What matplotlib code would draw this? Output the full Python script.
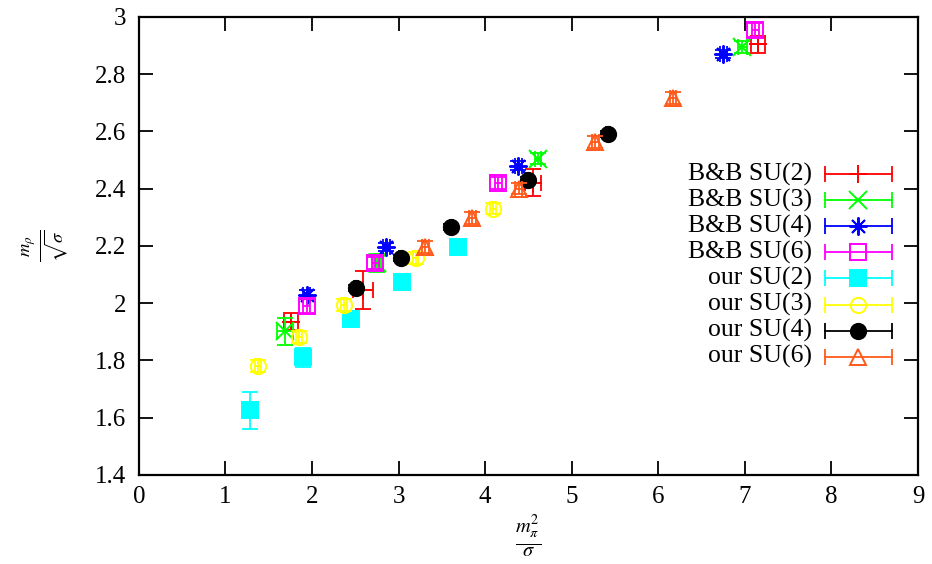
import numpy as np
import matplotlib
matplotlib.use("Agg")
import matplotlib.pyplot as plt

plt.rcParams['font.family'] = ['Liberation Serif', 'DejaVu Serif']
plt.rcParams['mathtext.fontset'] = 'stix'

# B&B data
bb2_x = [1.76, 2.59, 4.55, 7.15]
bb2_y = [1.935, 2.045, 2.42, 2.905]
bb2_xe = [0.08, 0.115, 0.09, 0.08]
bb2_ye = [0.03, 0.066, 0.047, 0.03]

bb3_x = [1.69, 2.75, 4.61, 6.97]
bb3_y = [1.902, 2.14, 2.505, 2.895]
bb3_xe = [0.09, 0.05, 0.04, 0.05]
bb3_ye = [0.047, 0.03, 0.02, 0.02]

bb4_x = [1.94, 2.86, 4.38, 6.75]
bb4_y = [2.03, 2.196, 2.48, 2.87]
bb4_xe = [0.04, 0.04, 0.04, 0.04]
bb4_ye = [0.015, 0.015, 0.015, 0.015]

bb6_x = [1.94, 2.73, 4.15, 7.12]
bb6_y = [1.99, 2.14, 2.42, 2.955]
bb6_xe = [0.04, 0.04, 0.04, 0.04]
bb6_ye = [0.025, 0.02, 0.02, 0.025]

# our data
our2_x = [1.28, 1.90, 2.45, 3.04, 3.69]
our2_y = [1.625, 1.811, 1.944, 2.073, 2.196]
our2_xe = [0.02, 0.02, 0.02, 0.02, 0.02]
our2_ye = [0.065, 0.033, 0.01, 0.01, 0.01]

our3_x = [1.376, 1.85, 2.37, 3.20, 4.09]
our3_y = [1.78, 1.881, 1.993, 2.157, 2.33]
our3_xe = [0.03, 0.03, 0.03, 0.03, 0.03]
our3_ye = [0.02, 0.02, 0.02, 0.02, 0.02]

our4_x = [2.51, 3.03, 3.61, 4.49, 5.42]
our4_y = [2.052, 2.157, 2.266, 2.43, 2.591]
our4_xe = [0.02, 0.02, 0.02, 0.02, 0.02]
our4_ye = [0.01, 0.01, 0.01, 0.01, 0.01]

our6_x = [3.31, 3.85, 4.39, 5.27, 6.17]
our6_y = [2.196, 2.297, 2.40, 2.563, 2.717]
our6_xe = [0.04, 0.04, 0.04, 0.04, 0.04]
our6_ye = [0.02, 0.02, 0.02, 0.02, 0.02]

series = [
    ("B&B SU(2)", bb2_x, bb2_y, bb2_xe, bb2_ye, '#ff0000', '+', True),
    ("B&B SU(3)", bb3_x, bb3_y, bb3_xe, bb3_ye, '#00ff00', 'x', True),
    ("B&B SU(4)", bb4_x, bb4_y, bb4_xe, bb4_ye, '#0000ff', (8, 2, 0), True),
    ("B&B SU(6)", bb6_x, bb6_y, bb6_xe, bb6_ye, '#ff00ff', 's', False),
    ("our SU(2)", our2_x, our2_y, our2_xe, our2_ye, '#00ffff', 's', True),
    ("our SU(3)", our3_x, our3_y, our3_xe, our3_ye, '#ffff00', 'o', False),
    ("our SU(4)", our4_x, our4_y, our4_xe, our4_ye, '#000000', 'o', True),
    ("our SU(6)", our6_x, our6_y, our6_xe, our6_ye, '#ff5a1a', '^', False),
]

fig = plt.figure(figsize=(9.32, 5.64), dpi=100)
ax = fig.add_axes([0.149, 0.158, 0.836, 0.812])

for i, (lab, x, y, xe, ye, c, m, filled) in enumerate(series):
    ms = 11 if m not in ('+', 'x', (8, 2, 0)) else 13
    mfc = c if filled else 'none'
    ax.errorbar(x, y, xerr=xe, yerr=ye, fmt='none', ecolor=c,
                elinewidth=1.3, capsize=5.5, capthick=1.3, zorder=2 + i)
    ax.plot(x, y, linestyle='none', marker=m, color=c, mfc=mfc, mec=c,
            ms=ms, mew=1.4, zorder=2 + i)

    # gnuplot-style key entry
    ky = 0.657 - i * 0.057
    ax.plot([0.880, 0.967], [ky, ky], color=c, lw=1.3, transform=ax.transAxes,
            clip_on=False)
    ax.plot([0.880, 0.967], [ky, ky], linestyle='none', marker='|', ms=11,
            mew=1.3, color=c, transform=ax.transAxes, clip_on=False)
    ax.plot([0.9235], [ky], linestyle='none', marker=m, color=c, mfc=mfc,
            mec=c, ms=ms, mew=1.4, transform=ax.transAxes, clip_on=False)
    ax.text(0.864, ky, lab, transform=ax.transAxes, ha='right', va='center',
            fontsize=18.5)

ax.set_xlim(0, 9)
ax.set_ylim(1.4, 3.0)
ax.set_xticks(np.arange(0, 10, 1))
ax.set_yticks(np.arange(1.4, 3.01, 0.2))
ax.set_yticklabels(['1.4', '1.6', '1.8', '2', '2.2', '2.4', '2.6', '2.8', '3'])

ax.tick_params(direction='in', length=10, width=1.3, top=True, right=True,
               labelsize=18)
ax.tick_params(axis='x', pad=8)
ax.tick_params(axis='y', pad=9)
for s in ax.spines.values():
    s.set_linewidth(1.6)

ax.set_xlabel(r'$\frac{m_\pi^2}{\sigma}$', fontsize=21, labelpad=4)
ax.set_ylabel(r'$\frac{m_\rho}{\sqrt{\sigma}}$', fontsize=19, labelpad=18)

fig.savefig('out.png', dpi=100)
